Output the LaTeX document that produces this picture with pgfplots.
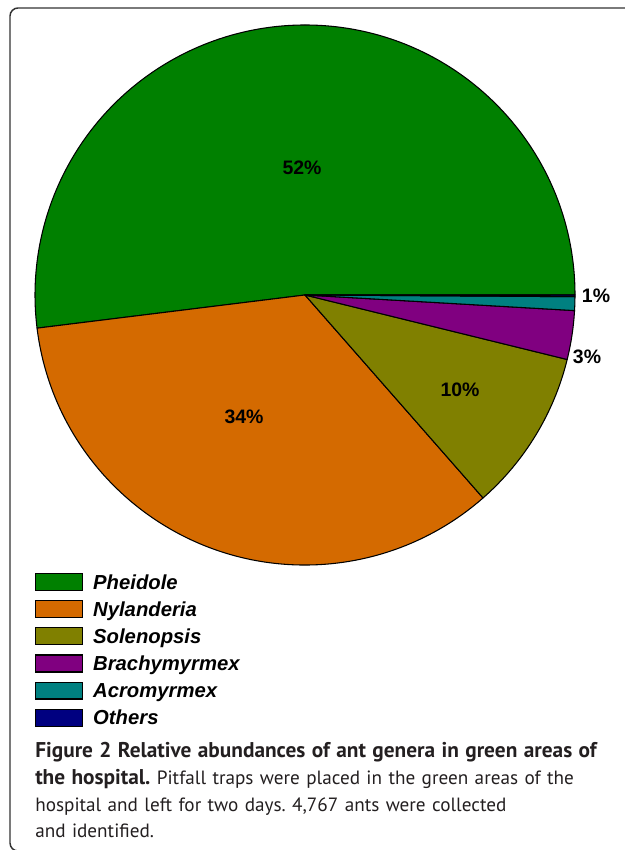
\documentclass[border=0pt]{standalone}
\usepackage{pgfplots}
\pgfplotsset{compat=1.18}
\usepackage{pgfplotstable}
\usepackage{fontspec}
\setmainfont{Liberation Sans}
\newfontfamily\capfont{PT Sans}

\definecolor{cPhe}{RGB}{0,128,0}
\definecolor{cNyl}{RGB}{212,106,0}
\definecolor{cSol}{RGB}{128,128,0}
\definecolor{cBra}{RGB}{128,0,128}
\definecolor{cAcr}{RGB}{0,128,128}
\definecolor{cOth}{RGB}{0,0,128}
\definecolor{captext}{HTML}{231F20}

% share of each genus (percent)
\pgfplotstableread{
genus value colour
Pheidole 51.96 cPhe
Nylanderia 34.50 cNyl
Solenopsis 9.70 cSol
Brachymyrmex 2.92 cBra
Acromyrmex 0.82 cAcr
Others 0.10 cOth
}\antdata

\pgfplotsset{
  boxlegend/.style={legend image code/.code={
      \draw[##1, line width=0.9pt] (0pt,-1.1pt) rectangle (35.25pt,11.6pt);
      \path (43pt,0pt);}},
}
\newcommand\capbold[1]{{\fontsize{16}{19.9}\selectfont\bfseries #1}}

\begin{document}
\frenchspacing
\begin{tikzpicture}
\useasboundingbox (0,0) rectangle (468.75pt,637.5pt);
\begin{axis}[
  at={(0,0)}, anchor=south west,
  x=0.75pt, y=0.75pt,
  xmin=0, xmax=625, ymin=0, ymax=850,
  hide axis, clip=false,
  legend style={at={(axis cs:35,277)}, anchor=north west,
    draw=none, fill=none, inner sep=0pt, outer sep=0pt,
    row sep=5.3pt, column sep=0pt,
    font=\bfseries\itshape\fontsize{15.2}{16}\selectfont,
    cells={anchor=base west},
    nodes={inner sep=0pt, text height=11pt, text depth=3pt}},
]
\pgfplotstablegetrowsof{\antdata}
\pgfmathtruncatemacro\nrows{\pgfplotsretval-1}
\gdef\angA{0}
\pgfplotsforeachungrouped \i in {0,...,\nrows}{
  \pgfplotstablegetelem{\i}{value}\of\antdata \let\val\pgfplotsretval
  \pgfplotstablegetelem{\i}{colour}\of\antdata \let\col\pgfplotsretval
  \pgfplotstablegetelem{\i}{genus}\of\antdata \let\gen\pgfplotsretval
  \pgfmathsetmacro\angB{\angA+3.6*\val}
  \pgfmathsetmacro\sx{305+270*cos(\angA)}
  \pgfmathsetmacro\sy{555+270*sin(\angA)}
  \edef\slice{\noexpand\filldraw[fill=\col, draw=black, line width=0.8pt, line join=round]
    (axis cs:305,555) -- (axis cs:\sx,\sy)
    arc[start angle=\angA, end angle=\angB, radius=202.5pt] -- cycle;
    \noexpand\addlegendimage{boxlegend, fill=\col, draw=black}
    \noexpand\addlegendentry{\gen}}
  \slice
  \global\let\angA\angB
}

\begin{scope}[font=\bfseries\fontsize{14.6}{16}\selectfont]
\node at (axis cs:302,682) {52\%};
\node at (axis cs:244,433) {34\%};
\node at (axis cs:460,460) {10\%};
\node at (axis cs:596,554) {1\%};
\node at (axis cs:587,493) {3\%};
\end{scope}

\node[anchor=base west, inner sep=0pt, text width=465pt, align=left,
      font=\capfont\fontsize{14.4}{19.9}\selectfont, text=captext]
  at (axis cs:35,92)
  {\capbold{Figure 2 Relative abundances of ant genera in green areas of}\\
   \capbold{the hospital.} Pitfall traps were placed in the green areas of the\\
   hospital and left for two days. 4,767 ants were collected\\
   and identified.};

\draw[line width=1.1pt, black!80, rounded corners=6pt]
  (axis cs:630,842) -- (axis cs:10,842) -- (axis cs:10,-1) -- (axis cs:40,-1);
\end{axis}
\end{tikzpicture}
\end{document}
